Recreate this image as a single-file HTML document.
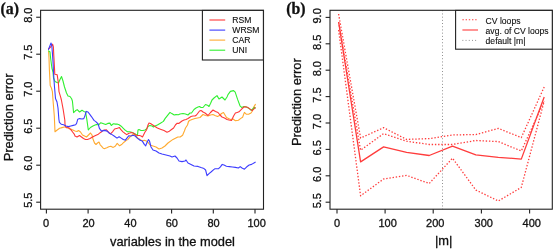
<!DOCTYPE html>
<html><head><meta charset="utf-8"><style>
html,body{margin:0;padding:0;background:#fff;width:553px;height:250px;overflow:hidden;font-family:"Liberation Sans",sans-serif;}
svg{display:block;will-change:transform}
</style></head><body>
<svg width="553" height="250" viewBox="0 0 553 250" style="position:absolute;left:0;top:0">
<rect x="0" y="0" width="553" height="250" fill="#fff"/>
<g>
<g fill="none" stroke-width="1.1" stroke-linejoin="round" stroke-linecap="round">
<polyline points="48.6,51.4 49.0,58.0 49.4,70.0 50.2,85.6 51.4,88.0 52.4,91.6 53.0,100.0 54.3,116.0 55.0,131.8 57.2,130.0 59.6,128.2 62.0,127.6 64.4,127.0 66.8,127.0 69.2,128.8 71.6,129.4 74.0,130.6 75.0,131.0 77.0,131.5 78.5,130.5 80.5,132.0 82.5,135.0 84.5,136.0 86.5,137.0 88.5,135.0 90.5,133.0 92.0,135.0 93.0,139.0 94.5,143.0 96.0,144.5 97.5,143.0 99.0,142.0 100.2,144.8 101.2,145.8 103.2,148.2 104.8,148.6 106.8,147.8 108.8,146.8 110.8,146.2 113.2,147.4 115.2,146.2 117.2,143.4 119.6,145.8 122.0,144.2 124.0,142.2 126.0,140.6 128.0,139.4 129.6,137.4 131.7,135.3 133.8,133.9 135.9,136.0 138.0,138.1 140.1,139.5 142.2,140.9 144.3,140.2 146.4,140.9 148.5,143.0 150.0,145.0 153.0,146.0 156.0,147.0 159.0,149.0 162.0,148.0 165.0,146.0 168.0,143.0 173.0,139.4 175.4,138.2 177.8,137.0 180.2,137.0 182.6,135.2 184.4,131.0 185.5,128.0 187.5,125.0 188.5,121.5 189.5,120.5 192.0,119.5 195.0,118.5 197.5,118.0 200.0,117.5 201.5,116.0 203.0,114.5 205.5,115.5 208.0,116.0 210.5,115.0 213.0,114.5 215.0,115.5 217.5,116.5 219.5,115.5 221.5,113.5 223.5,112.5 225.0,115.0 226.5,117.5 228.5,118.5 230.5,119.5 233.0,119.0 235.4,120.8 238.4,120.2 240.8,118.4 242.6,117.2 244.4,112.4 246.2,114.2 248.6,114.2 251.0,113.0 252.2,111.2 253.4,107.6 255.4,104.4" stroke="#ffaa30"/>
<polyline points="48.6,50.8 50.0,52.0 50.6,58.0 51.9,68.0 53.0,72.0 53.5,78.0 55.0,81.5 57.0,82.5 58.5,83.0 60.0,79.5 61.5,76.5 63.0,81.0 64.5,87.0 66.5,93.0 68.0,96.0 70.0,96.5 71.6,98.8 72.4,101.0 73.6,112.6 75.4,110.8 77.2,109.6 79.6,112.0 82.0,110.2 83.8,111.4 85.6,112.0 86.8,119.2 88.3,130.0 90.4,127.5 93.4,125.8 96.4,124.6 98.7,124.8 100.8,122.7 103.6,123.7 105.7,124.5 107.8,123.4 109.9,123.1 111.3,125.5 113.4,123.7 115.5,124.1 117.0,124.1 119.1,124.8 121.2,126.2 123.3,128.3 125.4,130.4 127.5,131.8 129.6,131.8 132.4,132.5 135.2,133.9 136.0,134.5 137.5,135.0 138.0,130.0 139.0,129.5 141.0,130.5 143.0,130.5 145.0,130.0 146.5,129.0 147.5,127.5 148.5,126.0 150.0,125.5 152.0,126.0 153.5,127.0 155.0,126.0 157.4,125.0 160.4,123.2 163.4,121.4 165.2,118.4 167.6,115.4 170.0,112.4 171.8,113.6 174.2,115.0 176.0,114.6 178.4,114.8 180.0,114.0 183.0,113.5 185.5,114.0 188.0,115.0 190.0,113.0 191.5,113.0 194.0,109.5 196.0,108.0 198.0,107.0 199.5,106.5 201.0,107.5 203.0,107.5 205.5,104.5 208.0,105.5 209.0,106.5 210.5,103.5 212.0,100.0 214.0,98.0 217.0,95.6 219.0,99.0 222.0,97.0 225.0,100.0 227.0,97.0 228.0,94.6 230.4,91.4 233.6,90.6 235.2,92.2 237.6,99.4 240.0,105.8 241.6,107.4 244.0,106.6 246.4,107.0 248.8,108.2 251.2,110.3 252.8,109.0 254.4,107.4 255.2,108.2" stroke="#30f030"/>
<polyline points="48.5,49.0 50.6,47.0 52.6,44.2 53.4,47.0 53.8,55.6 54.6,70.0 54.8,74.2 57.2,74.8 58.4,83.2 59.0,91.6 60.8,97.6 61.4,100.0 63.2,109.6 64.8,120.0 65.0,124.0 65.4,126.6 66.6,127.8 69.0,127.8 70.8,129.6 72.6,132.0 74.4,134.4 75.0,136.0 77.0,137.0 79.5,135.5 81.5,137.0 83.5,138.5 85.5,139.5 87.5,139.5 90.0,138.5 92.5,137.0 95.0,135.8 97.8,134.6 100.2,132.6 100.6,132.5 103.4,130.4 106.2,129.7 108.3,131.8 110.4,133.9 112.5,131.8 114.6,129.0 117.4,128.3 119.5,127.6 120.9,129.7 123.0,131.8 124.7,133.2 126.8,134.6 128.9,133.2 130.0,133.0 131.5,132.5 133.0,133.0 134.5,134.0 136.0,135.0 137.5,135.5 139.5,135.5 141.0,136.0 142.5,137.0 143.5,135.0 145.0,132.0 146.5,130.0 148.0,125.0 149.0,123.0 150.5,123.5 152.0,124.5 153.5,125.5 155.0,126.5 157.4,128.0 160.4,129.2 164.0,130.6 167.0,132.2 168.8,131.6 171.2,129.8 173.6,128.0 175.4,125.0 177.2,123.2 179.0,123.4 180.0,122.5 182.0,121.0 184.0,120.0 186.0,119.5 188.0,118.5 189.5,117.5 191.0,116.5 193.0,116.0 195.0,116.0 196.5,115.0 198.0,113.0 199.5,111.0 201.0,110.5 202.5,111.5 203.0,112.0 205.0,113.0 208.0,115.5 210.5,112.5 213.0,110.0 215.5,111.5 218.0,112.5 220.0,115.0 222.0,117.0 224.5,118.0 227.0,119.5 229.0,120.0 231.5,120.5 233.6,116.0 235.4,113.0 237.2,112.4 239.0,111.8 241.4,109.4 243.8,107.0 245.6,106.8 248.0,107.6 250.4,109.4 252.2,110.6 254.0,108.8 255.2,107.6" stroke="#ff3838"/>
<polyline points="48.5,49.4 51.0,43.0 51.8,45.4 52.4,53.0 53.0,61.6 53.5,72.0 54.0,80.0 54.5,87.0 55.5,98.5 57.0,102.0 58.0,108.0 58.9,119.5 59.4,122.4 61.2,124.2 63.6,124.8 66.0,126.0 68.4,126.6 70.8,126.0 73.2,125.4 75.6,124.8 76.6,123.4 77.8,119.2 79.6,118.6 82.0,119.0 83.8,118.6 85.0,115.6 86.2,111.4 88.0,112.0 89.8,114.4 91.6,116.8 94.0,120.4 95.8,121.6 98.2,124.0 99.4,128.3 101.5,131.1 104.3,130.4 107.1,131.1 109.2,133.2 112.0,134.6 114.1,136.0 117.0,138.1 119.1,136.7 121.2,138.1 123.3,139.5 125.4,140.2 127.5,137.4 128.9,135.7 131.0,136.0 133.1,135.3 135.2,136.0 137.3,138.1 140.1,140.2 142.2,140.9 144.3,144.4 145.7,145.8 147.1,142.3 148.5,139.5 149.5,141.0 151.0,147.0 153.0,150.0 156.0,151.0 159.0,153.0 162.0,154.0 166.0,155.0 170.0,156.0 172.0,157.0 175.0,156.0 177.0,158.0 179.0,161.0 182.0,161.6 185.0,161.0 186.0,160.0 188.0,163.0 191.0,164.4 194.0,166.0 198.0,166.4 201.0,167.6 204.0,168.6 205.6,170.0 207.0,175.6 209.0,173.6 211.0,172.0 214.0,169.4 215.0,168.8 218.6,168.6 220.4,166.8 222.2,164.4 224.0,165.0 226.4,166.2 229.4,166.6 232.4,167.0 235.4,167.4 238.4,168.0 240.2,166.6 242.0,168.0 244.4,169.2 246.8,166.8 249.2,165.0 251.6,164.4 255.2,162.2" stroke="#3c3cff"/>
</g>
<rect x="40.6" y="10.3" width="222.9" height="198.89999999999998" fill="none" stroke="#222" stroke-width="1.1"/>
<line x1="36.2" y1="17.24" x2="40.6" y2="17.24" stroke="#222" stroke-width="1.1"/>
<text transform="translate(31.8,15.2) rotate(-90)" text-anchor="middle" font-size="11.0" font-family='"Liberation Sans", sans-serif' fill="#111" stroke="#111" stroke-width="0.3">8.0</text>
<line x1="36.2" y1="54.2" x2="40.6" y2="54.2" stroke="#222" stroke-width="1.1"/>
<text transform="translate(31.8,52.2) rotate(-90)" text-anchor="middle" font-size="11.0" font-family='"Liberation Sans", sans-serif' fill="#111" stroke="#111" stroke-width="0.3">7.5</text>
<line x1="36.2" y1="91.2" x2="40.6" y2="91.2" stroke="#222" stroke-width="1.1"/>
<text transform="translate(31.8,89.2) rotate(-90)" text-anchor="middle" font-size="11.0" font-family='"Liberation Sans", sans-serif' fill="#111" stroke="#111" stroke-width="0.3">7.0</text>
<line x1="36.2" y1="128.2" x2="40.6" y2="128.2" stroke="#222" stroke-width="1.1"/>
<text transform="translate(31.8,126.2) rotate(-90)" text-anchor="middle" font-size="11.0" font-family='"Liberation Sans", sans-serif' fill="#111" stroke="#111" stroke-width="0.3">6.5</text>
<line x1="36.2" y1="165.2" x2="40.6" y2="165.2" stroke="#222" stroke-width="1.1"/>
<text transform="translate(31.8,163.2) rotate(-90)" text-anchor="middle" font-size="11.0" font-family='"Liberation Sans", sans-serif' fill="#111" stroke="#111" stroke-width="0.3">6.0</text>
<line x1="36.2" y1="202.2" x2="40.6" y2="202.2" stroke="#222" stroke-width="1.1"/>
<text transform="translate(31.8,200.2) rotate(-90)" text-anchor="middle" font-size="11.0" font-family='"Liberation Sans", sans-serif' fill="#111" stroke="#111" stroke-width="0.3">5.5</text>
<line x1="46.4" y1="209.2" x2="46.4" y2="213.39999999999998" stroke="#222" stroke-width="1.1"/>
<text x="46.1" y="227" text-anchor="middle" font-size="11.0" font-family='"Liberation Sans", sans-serif' fill="#111" stroke="#111" stroke-width="0.3">0</text>
<line x1="88.1" y1="209.2" x2="88.1" y2="213.39999999999998" stroke="#222" stroke-width="1.1"/>
<text x="88.5" y="227" text-anchor="middle" font-size="11.0" font-family='"Liberation Sans", sans-serif' fill="#111" stroke="#111" stroke-width="0.3">20</text>
<line x1="129.8" y1="209.2" x2="129.8" y2="213.39999999999998" stroke="#222" stroke-width="1.1"/>
<text x="130.4" y="227" text-anchor="middle" font-size="11.0" font-family='"Liberation Sans", sans-serif' fill="#111" stroke="#111" stroke-width="0.3">40</text>
<line x1="171.6" y1="209.2" x2="171.6" y2="213.39999999999998" stroke="#222" stroke-width="1.1"/>
<text x="171.8" y="227" text-anchor="middle" font-size="11.0" font-family='"Liberation Sans", sans-serif' fill="#111" stroke="#111" stroke-width="0.3">60</text>
<line x1="213.3" y1="209.2" x2="213.3" y2="213.39999999999998" stroke="#222" stroke-width="1.1"/>
<text x="213.5" y="227" text-anchor="middle" font-size="11.0" font-family='"Liberation Sans", sans-serif' fill="#111" stroke="#111" stroke-width="0.3">80</text>
<line x1="255" y1="209.2" x2="255" y2="213.39999999999998" stroke="#222" stroke-width="1.1"/>
<text x="256.6" y="227" text-anchor="middle" font-size="11.0" font-family='"Liberation Sans", sans-serif' fill="#111" stroke="#111" stroke-width="0.3">100</text>
<text x="172.5" y="245.5" text-anchor="middle" font-size="12.85" font-family='"Liberation Sans", sans-serif' fill="#111" stroke="#111" stroke-width="0.3">variables in the model</text>
<text transform="translate(12.6,117.4) rotate(-90)" text-anchor="middle" font-size="12.85" font-family='"Liberation Sans", sans-serif' fill="#111" stroke="#111" stroke-width="0.3">Prediction error</text>
<text x="0.5" y="13.5" font-size="15.8" font-weight="bold" font-family='"Liberation Serif", serif' fill="#111" stroke="#111" stroke-width="0.3">(a)</text>
<rect x="202.4" y="10.4" width="60.99999999999997" height="49.6" fill="#fff" stroke="#222" stroke-width="1.1"/>
<line x1="209.4" y1="20.0" x2="225.2" y2="20.0" stroke="#ff3838" stroke-width="1.1"/>
<text x="232.3" y="23.3" font-size="8.6" font-family='"Liberation Sans", sans-serif' fill="#111" stroke="#111" stroke-width="0.12">RSM</text>
<line x1="209.4" y1="30.1" x2="225.2" y2="30.1" stroke="#3c3cff" stroke-width="1.1"/>
<text x="232.3" y="33.3" font-size="8.6" font-family='"Liberation Sans", sans-serif' fill="#111" stroke="#111" stroke-width="0.12">WRSM</text>
<line x1="209.4" y1="40.1" x2="225.2" y2="40.1" stroke="#ffaa30" stroke-width="1.1"/>
<text x="232.3" y="43.2" font-size="8.6" font-family='"Liberation Sans", sans-serif' fill="#111" stroke="#111" stroke-width="0.12">CAR</text>
<line x1="209.4" y1="50.2" x2="225.2" y2="50.2" stroke="#30f030" stroke-width="1.1"/>
<text x="232.3" y="53.2" font-size="8.6" font-family='"Liberation Sans", sans-serif' fill="#111" stroke="#111" stroke-width="0.12">UNI</text>
<line x1="442.5" y1="10.3" x2="442.5" y2="209.2" stroke="#777" stroke-width="0.9" stroke-dasharray="0.9 2.3"/>
<g fill="none" stroke="#ff3c3c" stroke-width="1.3" stroke-linejoin="round">
<polyline points="338.6,14.0 360.6,138.0 383.6,127.7 406.6,139.4 429.2,138.6 452.5,134.9 475.8,134.6 498.3,128.4 521.3,137.6 544.2,87.0" stroke-dasharray="1.4 1.8"/>
<polyline points="338.6,22.0 360.6,150.2 383.6,133.6 406.6,141.2 429.2,144.5 452.5,144.5 475.8,140.5 498.3,141.6 521.3,151.0 544.2,101.0" stroke-dasharray="1.4 1.8"/>
<polyline points="338.6,30.0 360.6,195.8 383.6,179.0 406.6,175.4 429.2,183.5 452.5,158.2 475.8,190.0 498.3,201.0 521.3,187.4 544.2,101.0" stroke-dasharray="1.4 1.8"/>
<polyline points="338.6,22.0 360.6,161.9 383.6,146.9 406.6,152.3 429.2,155.5 452.5,146.1 475.8,154.9 498.3,157.3 521.3,159.1 544.2,97.0"/>
</g>
<rect x="330.0" y="10.3" width="222.29999999999995" height="198.89999999999998" fill="none" stroke="#222" stroke-width="1.1"/>
<line x1="325.6" y1="17.4" x2="330.0" y2="17.4" stroke="#222" stroke-width="1.1"/>
<text transform="translate(321,15.9) rotate(-90)" text-anchor="middle" font-size="11.0" font-family='"Liberation Sans", sans-serif' fill="#111" stroke="#111" stroke-width="0.3">9.0</text>
<line x1="325.6" y1="43.8" x2="330.0" y2="43.8" stroke="#222" stroke-width="1.1"/>
<text transform="translate(321,42.3) rotate(-90)" text-anchor="middle" font-size="11.0" font-family='"Liberation Sans", sans-serif' fill="#111" stroke="#111" stroke-width="0.3">8.5</text>
<line x1="325.6" y1="70.2" x2="330.0" y2="70.2" stroke="#222" stroke-width="1.1"/>
<text transform="translate(321,68.7) rotate(-90)" text-anchor="middle" font-size="11.0" font-family='"Liberation Sans", sans-serif' fill="#111" stroke="#111" stroke-width="0.3">8.0</text>
<line x1="325.6" y1="96.6" x2="330.0" y2="96.6" stroke="#222" stroke-width="1.1"/>
<text transform="translate(321,95.1) rotate(-90)" text-anchor="middle" font-size="11.0" font-family='"Liberation Sans", sans-serif' fill="#111" stroke="#111" stroke-width="0.3">7.5</text>
<line x1="325.6" y1="123.0" x2="330.0" y2="123.0" stroke="#222" stroke-width="1.1"/>
<text transform="translate(321,121.5) rotate(-90)" text-anchor="middle" font-size="11.0" font-family='"Liberation Sans", sans-serif' fill="#111" stroke="#111" stroke-width="0.3">7.0</text>
<line x1="325.6" y1="149.4" x2="330.0" y2="149.4" stroke="#222" stroke-width="1.1"/>
<text transform="translate(321,147.9) rotate(-90)" text-anchor="middle" font-size="11.0" font-family='"Liberation Sans", sans-serif' fill="#111" stroke="#111" stroke-width="0.3">6.5</text>
<line x1="325.6" y1="175.8" x2="330.0" y2="175.8" stroke="#222" stroke-width="1.1"/>
<text transform="translate(321,174.3) rotate(-90)" text-anchor="middle" font-size="11.0" font-family='"Liberation Sans", sans-serif' fill="#111" stroke="#111" stroke-width="0.3">6.0</text>
<line x1="325.6" y1="202.2" x2="330.0" y2="202.2" stroke="#222" stroke-width="1.1"/>
<text transform="translate(321,200.7) rotate(-90)" text-anchor="middle" font-size="11.0" font-family='"Liberation Sans", sans-serif' fill="#111" stroke="#111" stroke-width="0.3">5.5</text>
<line x1="337.0" y1="209.2" x2="337.0" y2="213.39999999999998" stroke="#222" stroke-width="1.1"/>
<text x="337.0" y="227" text-anchor="middle" font-size="11.0" font-family='"Liberation Sans", sans-serif' fill="#111" stroke="#111" stroke-width="0.3">0</text>
<line x1="385.1" y1="209.2" x2="385.1" y2="213.39999999999998" stroke="#222" stroke-width="1.1"/>
<text x="387.6" y="227" text-anchor="middle" font-size="11.0" font-family='"Liberation Sans", sans-serif' fill="#111" stroke="#111" stroke-width="0.3">100</text>
<line x1="433.2" y1="209.2" x2="433.2" y2="213.39999999999998" stroke="#222" stroke-width="1.1"/>
<text x="435.3" y="227" text-anchor="middle" font-size="11.0" font-family='"Liberation Sans", sans-serif' fill="#111" stroke="#111" stroke-width="0.3">200</text>
<line x1="481.4" y1="209.2" x2="481.4" y2="213.39999999999998" stroke="#222" stroke-width="1.1"/>
<text x="483.8" y="227" text-anchor="middle" font-size="11.0" font-family='"Liberation Sans", sans-serif' fill="#111" stroke="#111" stroke-width="0.3">300</text>
<line x1="529.6" y1="209.2" x2="529.6" y2="213.39999999999998" stroke="#222" stroke-width="1.1"/>
<text x="531.7" y="227" text-anchor="middle" font-size="11.0" font-family='"Liberation Sans", sans-serif' fill="#111" stroke="#111" stroke-width="0.3">400</text>
<text x="443.7" y="245" text-anchor="middle" font-size="12.85" font-family='"Liberation Sans", sans-serif' fill="#111" stroke="#111" stroke-width="0.3">|m|</text>
<text transform="translate(300.8,102.1) rotate(-90)" text-anchor="middle" font-size="12.85" font-family='"Liberation Sans", sans-serif' fill="#111" stroke="#111" stroke-width="0.3">Prediction error</text>
<text x="286.2" y="14" font-size="15.8" font-weight="bold" font-family='"Liberation Serif", serif' fill="#111" stroke="#111" stroke-width="0.3">(b)</text>
<rect x="455.6" y="10.4" width="96.7" height="38.8" fill="#fff" stroke="#222" stroke-width="1.1"/>
<line x1="462.4" y1="19.8" x2="478" y2="19.8" stroke="#ff3c3c" stroke-width="1.1" stroke-dasharray="1.4 1.8"/>
<line x1="462.4" y1="30" x2="478" y2="30" stroke="#ff3c3c" stroke-width="1.1"/>
<line x1="462.4" y1="40.4" x2="478" y2="40.4" stroke="#777" stroke-width="0.9" stroke-dasharray="0.9 2.3"/>
<text x="485.6" y="23.8" font-size="8.6" font-family='"Liberation Sans", sans-serif' fill="#111" stroke="#111" stroke-width="0.12">CV loops</text>
<text x="485.6" y="34.0" font-size="8.6" font-family='"Liberation Sans", sans-serif' fill="#111" stroke="#111" stroke-width="0.12">avg. of CV loops</text>
<text x="485.6" y="43.8" font-size="8.6" font-family='"Liberation Sans", sans-serif' fill="#111" stroke="#111" stroke-width="0.12">default |m|</text>
</g>
</svg>
</body></html>
